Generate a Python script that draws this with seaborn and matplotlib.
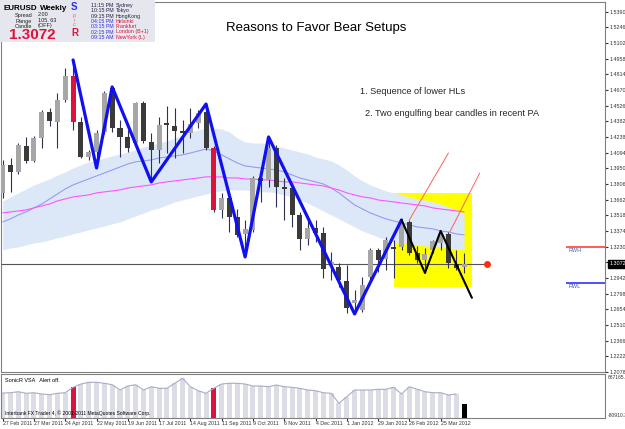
import matplotlib
matplotlib.use("Agg")
import matplotlib.pyplot as plt
from matplotlib.patches import Rectangle
import numpy as np
import seaborn as sns

# 周线 EURUSD, 2011-02-27 起, 每根K线的数据
date_ticks = [0, 4, 8, 12, 16, 20, 24, 28, 32, 36, 40, 44, 48, 52, 56]
date_labels = ["27 Feb 2011", "27 Mar 2011", "24 Apr 2011", "22 May 2011", "19 Jun 2011",
               "17 Jul 2011", "14 Aug 2011", "11 Sep 2011", "9 Oct 2011", "6 Nov 2011",
               "4 Dec 2011", "1 Jan 2012", "29 Jan 2012", "26 Feb 2012", "25 Mar 2012"]

opens = [1.3725, 1.3982, 1.3918, 1.4156, 1.4019, 1.4230, 1.4469, 1.4377, 1.4579, 1.4800,
         1.4377, 1.4055, 1.4101, 1.4285, 1.4689, 1.4322, 1.4239, 1.4184, 1.4552, 1.4193,
         1.4120, 1.4368, 1.4340, 1.4294, 1.4276, 1.4368, 1.4469, 1.4138, 1.3568, 1.3679,
         1.3504, 1.3348, 1.3384, 1.3862, 1.3844, 1.4138, 1.3780, 1.3770, 1.3522, 1.3302,
         1.3403, 1.3357, 1.3063, 1.3044, 1.2916, 1.2714, 1.2649, 1.2953, 1.3201, 1.3118,
         1.3228, 1.3228, 1.3458, 1.3173, 1.3109, 1.3201, 1.3265, 1.3348, 1.3072, 1.3044]
highs = [1.4028, 1.4046, 1.4184, 1.4239, 1.4248, 1.4487, 1.4506, 1.4644, 1.4873, 1.4947,
         1.4423, 1.4120, 1.4304, 1.4662, 1.4699, 1.4395, 1.4304, 1.4561, 1.4570, 1.4276,
         1.4423, 1.4524, 1.4506, 1.4395, 1.4506, 1.4487, 1.4542, 1.4156, 1.3725, 1.3725,
         1.3577, 1.3476, 1.3881, 1.3881, 1.4239, 1.4166, 1.3862, 1.3816, 1.3550, 1.3476,
         1.3476, 1.3412, 1.3182, 1.3081, 1.3063, 1.2833, 1.2953, 1.3219, 1.3219, 1.3320,
         1.3293, 1.3476, 1.3476, 1.3237, 1.3219, 1.3293, 1.3375, 1.3366, 1.3201, 1.3173]
lows = [1.3679, 1.3734, 1.3899, 1.4000, 1.4010, 1.4138, 1.4340, 1.4138, 1.4561, 1.4304,
        1.4046, 1.4028, 1.3954, 1.4267, 1.4285, 1.4055, 1.4101, 1.4166, 1.4184, 1.3826,
        1.4000, 1.4092, 1.4046, 1.4092, 1.4230, 1.4322, 1.4120, 1.3550, 1.3495, 1.3366,
        1.3320, 1.3136, 1.3366, 1.3642, 1.3780, 1.3596, 1.3476, 1.3412, 1.3201, 1.3247,
        1.3274, 1.2943, 1.2925, 1.2861, 1.2622, 1.2612, 1.2631, 1.2907, 1.2998, 1.3017,
        1.2943, 1.3201, 1.3155, 1.3081, 1.2989, 1.3173, 1.3201, 1.3035, 1.3017, 1.2989]
closes = [1.3982, 1.3918, 1.4166, 1.4019, 1.4230, 1.4469, 1.4386, 1.4579, 1.4800, 1.4377,
          1.4055, 1.4101, 1.4276, 1.4644, 1.4322, 1.4239, 1.4138, 1.4552, 1.4202, 1.4120,
          1.4349, 1.4349, 1.4294, 1.4276, 1.4359, 1.4460, 1.4138, 1.3568, 1.3679, 1.3504,
          1.3339, 1.3394, 1.3862, 1.3835, 1.4138, 1.3780, 1.3761, 1.3522, 1.3302, 1.3403,
          1.3357, 1.3026, 1.3090, 1.2925, 1.2668, 1.2741, 1.2879, 1.3201, 1.3109, 1.3293,
          1.3210, 1.3458, 1.3173, 1.3109, 1.3164, 1.3284, 1.3339, 1.3081, 1.3035, 1.3072]
red_candles = [9, 27]

# 通道和均线
band_upper = [1.3651, 1.3688, 1.3725, 1.3761, 1.3798, 1.3826, 1.3853, 1.3890, 1.3918, 1.3954,
              1.3982, 1.4010, 1.4028, 1.4046, 1.4065, 1.4083, 1.4101, 1.4120, 1.4147, 1.4166,
              1.4184, 1.4202, 1.4230, 1.4258, 1.4285, 1.4304, 1.4322, 1.4322, 1.4313, 1.4285,
              1.4230, 1.4193, 1.4184, 1.4184, 1.4175, 1.4156, 1.4138, 1.4120, 1.4101, 1.4083,
              1.4055, 1.4037, 1.4019, 1.3982, 1.3936, 1.3881, 1.3835, 1.3798, 1.3770, 1.3743,
              1.3725, 1.3706, 1.3688, 1.3669, 1.3660, 1.3642, 1.3623, 1.3596, 1.3568, 1.3532]
band_lower = [1.3201, 1.3219, 1.3228, 1.3247, 1.3265, 1.3274, 1.3293, 1.3311, 1.3329, 1.3348,
              1.3366, 1.3384, 1.3403, 1.3421, 1.3440, 1.3458, 1.3486, 1.3513, 1.3541, 1.3568,
              1.3587, 1.3614, 1.3642, 1.3660, 1.3679, 1.3697, 1.3715, 1.3734, 1.3743, 1.3752,
              1.3752, 1.3752, 1.3743, 1.3734, 1.3734, 1.3725, 1.3706, 1.3688, 1.3660, 1.3632,
              1.3596, 1.3559, 1.3522, 1.3486, 1.3449, 1.3412, 1.3375, 1.3348, 1.3320, 1.3293,
              1.3274, 1.3265, 1.3256, 1.3247, 1.3237, 1.3237, 1.3228, 1.3219, 1.3210, 1.3201]
ma_fast = [1.3458, 1.3486, 1.3522, 1.3550, 1.3587, 1.3623, 1.3669, 1.3715, 1.3761, 1.3798,
           1.3826, 1.3853, 1.3881, 1.3908, 1.3936, 1.3963, 1.3991, 1.4010, 1.4019, 1.4028,
           1.4046, 1.4055, 1.4065, 1.4074, 1.4092, 1.4110, 1.4129, 1.4110, 1.4074, 1.4037,
           1.4000, 1.3973, 1.3963, 1.3954, 1.3945, 1.3936, 1.3918, 1.3890, 1.3862, 1.3844,
           1.3826, 1.3807, 1.3770, 1.3725, 1.3669, 1.3614, 1.3577, 1.3541, 1.3513, 1.3486,
           1.3467, 1.3449, 1.3430, 1.3412, 1.3403, 1.3394, 1.3375, 1.3366, 1.3348, 1.3339]
ma_slow = [1.3541, 1.3550, 1.3559, 1.3568, 1.3587, 1.3605, 1.3623, 1.3651, 1.3669, 1.3688,
           1.3697, 1.3706, 1.3725, 1.3734, 1.3743, 1.3752, 1.3770, 1.3780, 1.3789, 1.3798,
           1.3816, 1.3826, 1.3835, 1.3844, 1.3853, 1.3862, 1.3872, 1.3872, 1.3872, 1.3862,
           1.3862, 1.3853, 1.3853, 1.3844, 1.3844, 1.3835, 1.3826, 1.3826, 1.3816, 1.3807,
           1.3798, 1.3789, 1.3770, 1.3752, 1.3725, 1.3706, 1.3688, 1.3679, 1.3660, 1.3651,
           1.3642, 1.3632, 1.3623, 1.3614, 1.3605, 1.3587, 1.3577, 1.3568, 1.3559, 1.3550]

# VSA 成交量
vsa_volume = [344000, 349000, 366000, 339000, 349000, 327000, 315000, 339000, 349000, 441000,
              497000, 526000, 526000, 509000, 485000, 395000, 463000, 485000, 395000, 451000,
              424000, 424000, 509000, 594000, 451000, 383000, 339000, 424000, 497000, 509000,
              509000, 497000, 463000, 463000, 451000, 480000, 451000, 441000, 424000, 395000,
              383000, 349000, 339000, 169000, 281000, 395000, 395000, 395000, 407000, 407000,
              441000, 327000, 451000, 407000, 366000, 349000, 349000, 310000, 327000, 157000]
vsa_top, vsa_bottom = 667165.2, -80910.3

# 之字形高低点
blue_zz_idx = [9, 12, 14, 19, 26, 31, 34, 45, 51]
black_zz_idx = [51, 54, 56]
projection_idx, projection_price = 60, 1.2760
box_idx = [50, 60]
box_price = [1.2861, 1.3725]
ray1_idx, ray1_price = [52, 57.0], [1.3476, 1.4092]
ray2_idx, ray2_price = [57.2, 61.0], [1.3369, 1.3908]
last_price = 1.3072
rwh, rwl = 1.3230, 1.2897
price_ticks = [1.5390, 1.5246, 1.5102, 1.4958, 1.4814, 1.4670, 1.4526, 1.4382, 1.4238, 1.4094,
               1.3950, 1.3806, 1.3662, 1.3518, 1.3374, 1.3230, 1.3086, 1.2942, 1.2798, 1.2654,
               1.2510, 1.2366, 1.2222, 1.2078]

sns.set_style("white")
plt.rcParams['font.family'] = ['Liberation Sans', 'DejaVu Sans']

W, H = 625, 429
fig = plt.figure(figsize=(W / 100, H / 100), dpi=100)


def fx(px):
    return px / W


def fy(py):
    return 1 - py / H


ax = fig.add_axes([fx(1), fy(372), fx(604), 370 / H])
ax2 = fig.add_axes([fx(1), fy(418), fx(604), 44 / H])
xlim = (-0.217, 77.02)

idx = np.arange(len(opens))
o, h, l, c = map(np.array, (opens, highs, lows, closes))

# 黄色区域
ax.add_patch(Rectangle((box_idx[0], box_price[0]), box_idx[1] - box_idx[0],
                       box_price[1] - box_price[0], color='#ffff00', lw=0, zorder=1))
# 通道
ax.fill_between(idx, band_lower, band_upper, color='#dce8f8', lw=0, zorder=2)
sns.lineplot(x=idx, y=ma_fast, ax=ax, color='#9a9af0', linewidth=0.8, zorder=3)
sns.lineplot(x=idx, y=ma_slow, ax=ax, color='#ff55ff', linewidth=0.8, zorder=3)

# 当前价格线
ax.hlines(last_price, xlim[0], 61.6, color='#555555', lw=0.8, zorder=3)
ax.plot([61.9], [last_price], 'o', color='#ff3010', ms=4, zorder=6)

# K线
colors = []
for i in idx:
    if i in red_candles:
        colors.append('#dc143c')
    elif c[i] >= o[i]:
        colors.append('#a6a6a6')
    else:
        colors.append('#3a3a3a')
ax.vlines(idx, l, h, color='#303050', lw=0.8, zorder=4)
body = np.maximum(np.abs(c - o), 0.0006)
ax.bar(idx, body, bottom=np.minimum(o, c), width=0.64, color=colors, lw=0, zorder=5)

# 之字形
zz_price = [h[i] if k % 2 == 0 else l[i] for k, i in enumerate(blue_zz_idx)]
sns.lineplot(x=blue_zz_idx, y=zz_price, ax=ax, sort=False, color='#1010f0',
             linewidth=2.3, zorder=7)
bz_price = [h[i] if k % 2 == 0 else l[i] for k, i in enumerate(black_zz_idx)]
sns.lineplot(x=black_zz_idx + [projection_idx], y=bz_price + [projection_price], ax=ax,
             sort=False, color='black', linewidth=1.5, zorder=7)
ax.plot(ray1_idx, ray1_price, color='#ff6060', lw=0.7, zorder=6)
ax.plot(ray2_idx, ray2_price, color='#ff6060', lw=0.7, zorder=6)

# RWH / RWL
ax.hlines(rwh, 72.0, xlim[1], color='#ff4040', lw=1.2, zorder=6)
ax.hlines(rwl, 72.0, xlim[1], color='#3030ff', lw=1.2, zorder=6)
ax.text(72.4, rwh - 0.0012, 'RWH', fontsize=4, color='#5060a0', va='top')
ax.text(72.4, rwl - 0.0012, 'RWL', fontsize=4, color='#4050c0', va='top')

ax.set_xlim(*xlim)
ax.set_ylim(1.20794, 1.54801)
ax.set_xticks([])
ax.yaxis.tick_right()
ax.set_yticks(price_ticks)
ax.set_yticklabels(['%.5f' % p for p in price_ticks])
ax.tick_params(axis='y', labelsize=3.9, length=2, pad=1, colors='#333333', right=True)
ax.annotate('1.30720', xy=(1.0, last_price), xycoords=('axes fraction', 'data'),
            xytext=(3, 0), textcoords='offset points', fontsize=3.9, color='white',
            va='center', ha='left', zorder=10,
            bbox=dict(boxstyle='square,pad=0.25', fc='black', ec='black'))
for s in ax.spines.values():
    s.set_color('#808080')
    s.set_linewidth(0.8)

# 指标面板
vcolors = ['#dcdce6'] * len(vsa_volume)
for i in red_candles:
    vcolors[i] = '#dc143c'
vcolors[-1] = 'black'
vol = np.array(vsa_volume)
ax2.bar(idx, vol - vsa_bottom, bottom=vsa_bottom, width=0.64, color=vcolors, lw=0)
sns.lineplot(x=idx[:-1], y=vol[:-1], ax=ax2, color='#a8acc4', linewidth=0.8)
ax2.set_xlim(*xlim)
ax2.set_ylim(vsa_bottom, vsa_top)
ax2.set_yticks([])
ax2.set_xticks(date_ticks)
ax2.set_xticklabels(date_labels, ha='left')
ax2.tick_params(axis='x', labelsize=3.8, length=2, pad=0.5, colors='#333333', bottom=True)
for s in ax2.spines.values():
    s.set_color('#808080')
    s.set_linewidth(0.8)
ax2.text(1.004, 0.93, '667165.2', transform=ax2.transAxes, fontsize=3.6, color='#333333',
         va='center', ha='left')
ax2.text(1.004, 0.05, '-80910.3', transform=ax2.transAxes, fontsize=3.6, color='#333333',
         va='center', ha='left')
ax2.text(0.006, 0.86, 'SonicR VSA   Alert off.', transform=ax2.transAxes, fontsize=4,
         color='black', va='center')
ax2.text(0.006, 0.1, 'Interbank FX Trader 4, \u00a9 2001-2011 MetaQuotes Software Corp.',
         transform=ax2.transAxes, fontsize=3.6, color='black', va='center')

# 标题和说明
fig.text(fx(316), fy(28), 'Reasons to Favor Bear Setups', fontsize=9.5, ha='center',
         va='center', color='black')
fig.text(fx(360), fy(92), '1. Sequence of lower HLs', fontsize=6.6, va='center')
fig.text(fx(365), fy(113), '2. Two engulfing bear candles in recent PA', fontsize=6.6,
         va='center')

# 左上角信息框
fig.add_artist(Rectangle((0, fy(42)), fx(155), 42 / H, transform=fig.transFigure,
                         color='#e6e6ee', lw=0, zorder=10))
info = [
    (4, 8, 'EURUSD', 5.8, 'bold', 'black'),
    (40, 8, 'Weekly', 5.8, 'bold', 'black'),
    (15, 15, 'Spread', 4.0, 'normal', '#222222'),
    (38, 15, '2.00', 4.0, 'normal', '#222222'),
    (15, 21, 'Range', 4.0, 'normal', '#222222'),
    (38, 21, '105. 63', 4.0, 'normal', '#222222'),
    (15, 26, 'Candle', 4.0, 'normal', '#222222'),
    (38, 26, '(OFF)', 4.0, 'normal', '#222222'),
    (9, 35, '1.3072', 11, 'bold', '#dc143c'),
    (71, 7, 'S', 7, 'bold', '#3030e0'),
    (73, 15, 'p', 4, 'normal', '#e060a0'),
    (74, 20, 'i', 4, 'normal', '#e060a0'),
    (73, 25, 'c', 4, 'normal', '#e060a0'),
    (71, 33, 'R', 7, 'bold', '#dc143c'),
]
for px, py, s, fs, fw, col in info:
    fig.text(fx(px), fy(py), s, fontsize=fs, fontweight=fw, color=col, va='center',
             zorder=11)
times = ['11:15 PM', '10:15 PM', '09:15 PM', '04:15 PM', '03:15 PM', '02:15 PM', '09:15 AM']
cities = ['Sydney', 'Tokyo', 'HongKong', 'Helsinki', 'Frankfurt', 'London (B+1)', 'NewYork (L)']
for k, (t, cty) in enumerate(zip(times, cities)):
    yy = 5.5 + k * 5.3
    tc = '#202040' if k < 3 else '#3030e0'
    cc = '#202040' if k < 3 else '#dc143c'
    fig.text(fx(91), fy(yy), t, fontsize=3.8, color=tc, va='center', zorder=11)
    fig.text(fx(116), fy(yy), cty, fontsize=3.8, color=cc, va='center', zorder=11)

fig.savefig('out.png', dpi=100)
